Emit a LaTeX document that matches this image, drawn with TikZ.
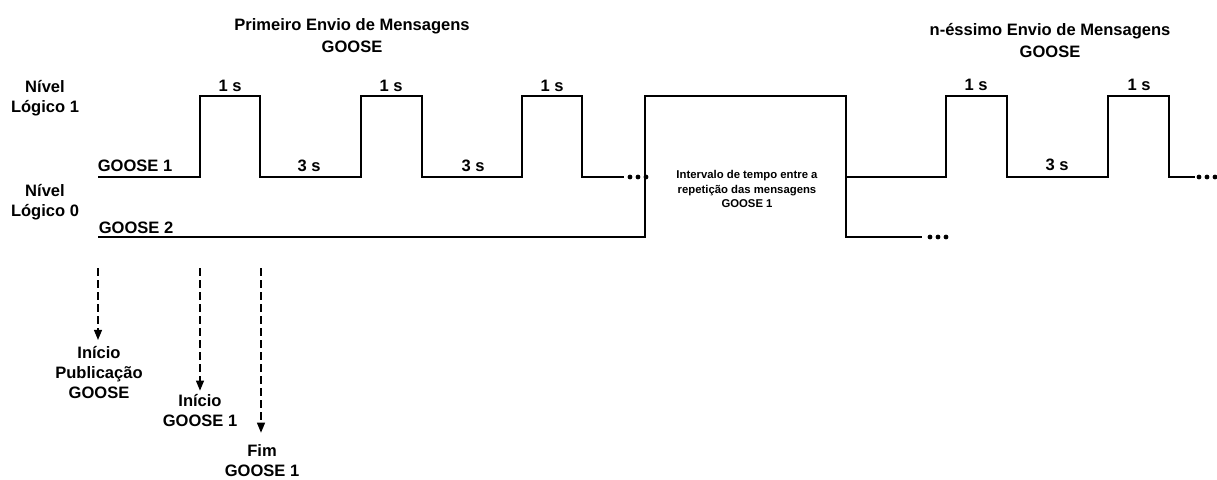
\documentclass[tikz,border=0pt]{standalone}
\usepackage{fontspec}
\setmainfont{Liberation Sans}
\usetikzlibrary{arrows.meta}

\begin{document}
\begin{tikzpicture}[x=0.75pt,y=-0.75pt,
  lbl/.style={font=\bfseries\fontsize{12.4}{15}\selectfont, align=center, inner sep=0pt},
  title/.style={font=\bfseries\fontsize{12.4}{16.5}\selectfont, align=center, inner sep=0pt},
  small/.style={font=\bfseries\fontsize{8.5}{11.2}\selectfont, align=center, inner sep=0pt},
  wave/.style={draw, line width=1pt},
  marker/.style={draw, line width=0.9pt, dash pattern=on 6pt off 3pt, -{Triangle[length=7.5pt,width=6pt]}}]
\useasboundingbox (0,0) rectangle (1217,479);
% titulos
\node[title] (tit1) at (352,36) {Primeiro Envio de Mensagens\\GOOSE};
\node[title] (tit2) at (1050,41) {n-éssimo Envio de Mensagens\\GOOSE};
\node[lbl] (niv1) at (45,98) {Nível\\Lógico 1};
\node[lbl] (niv0) at (45,202) {Nível\\Lógico 0};
\node[lbl] (g1) at (135,166) {GOOSE 1};
\node[lbl] (g2) at (136,228) {GOOSE 2};
% tempos
\node[lbl] (t1) at (230,86) {1 s};
\node[lbl] (t2) at (391,86) {1 s};
\node[lbl] (t3) at (552,86) {1 s};
\node[lbl] (t4) at (976,85) {1 s};
\node[lbl] (t5) at (1139,85) {1 s};
\node[lbl] (d1) at (309,166) {3 s};
\node[lbl] (d2) at (473,166) {3 s};
\node[lbl] (d3) at (1057,165) {3 s};
\node[small] (interv) at (747,189) {Intervalo de tempo entre a\\repetição das mensagens\\GOOSE 1};
% formas de onda
\path[wave] (98,177) -| (200,96) -| (260,177) -| (361,96) -| (422,177) -| (522,96) -| (582,177) -- (624,177);
\path[wave] (98,237) -- (645,237) -- (645,96) -- (846,96) -- (846,237) -- (922,237);
\path[wave] (846,177) -| (946,96) -| (1007,177) -| (1108,96) -| (1169,177) -- (1195,177);
\foreach \x in {630,638,646} \fill (\x,177) circle (2.4);
\foreach \x in {930,938,946} \fill (\x,237) circle (2.4);
\foreach \x in {1199,1207,1215} \fill (\x,177) circle (2.4);
% eventos
\coordinate (pub) at (98,268);
\coordinate (ini) at (200,268);
\coordinate (fim) at (261,268);
\node[lbl] (lpub) at (99,373) {Início\\Publicação\\GOOSE};
\node[lbl] (lini) at (200,411) {Início\\GOOSE 1};
\node[lbl] (lfim) at (262,461) {Fim\\GOOSE 1};
\path[marker, shorten >=5pt] (pub) -- (pub |- lpub.north);
\path[marker, shorten >=3pt] (ini) -- (ini |- lini.north);
\path[marker, shorten >=9pt] (fim) -- (fim |- lfim.north);
\end{tikzpicture}
\end{document}
